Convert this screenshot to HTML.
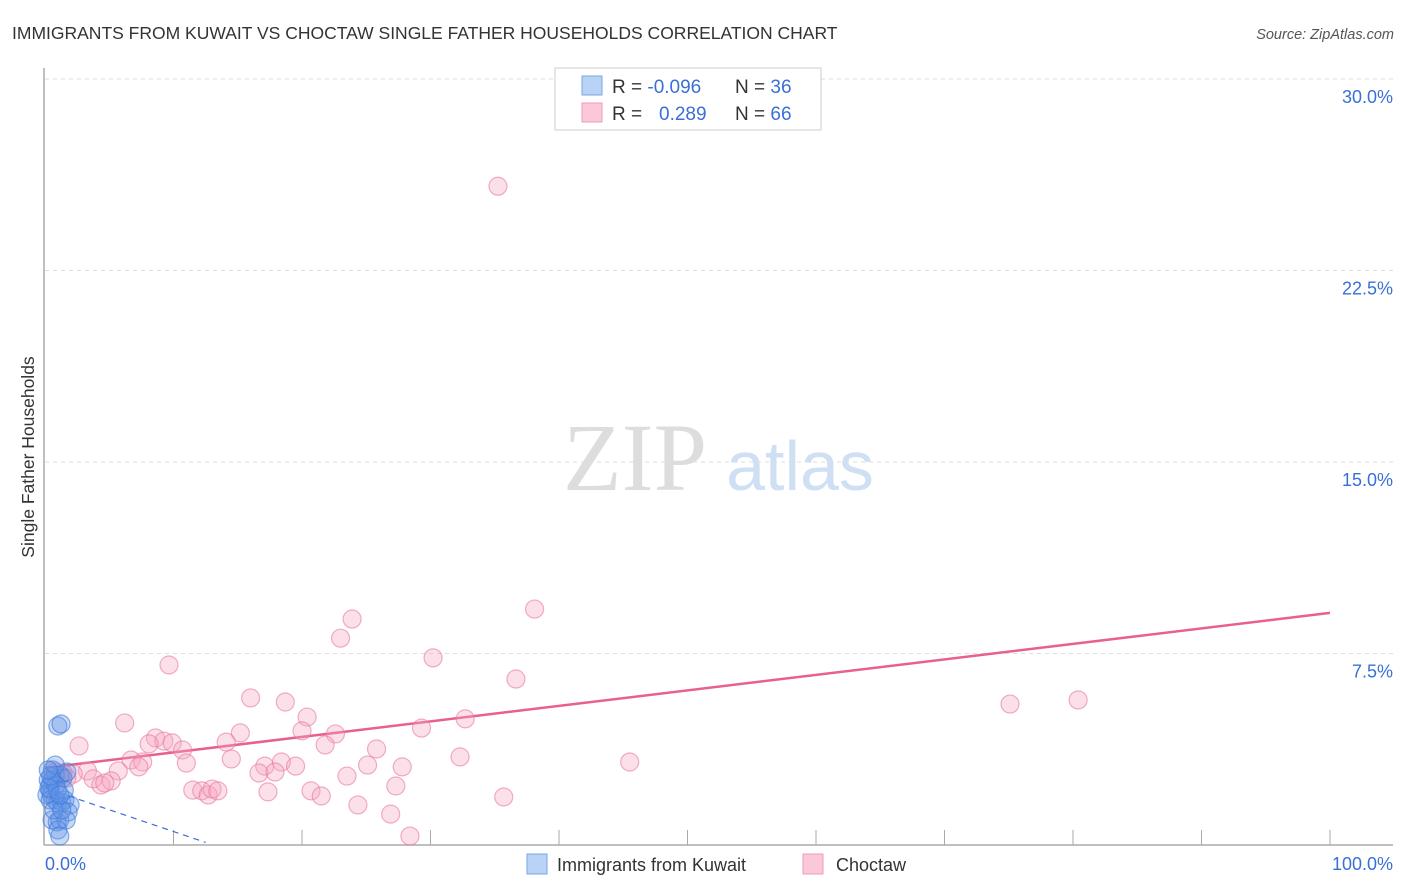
<!DOCTYPE html>
<html><head><meta charset="utf-8"><style>
body{margin:0;background:#fff;font-family:"Liberation Sans",sans-serif;}
svg{display:block}
</style></head><body>
<svg id="chart" width="1406" height="892" xmlns="http://www.w3.org/2000/svg">
<text x="12" y="39" font-size="17.5" fill="#333">IMMIGRANTS FROM KUWAIT VS CHOCTAW SINGLE FATHER HOUSEHOLDS CORRELATION CHART</text>
<text x="1394" y="39" font-size="14.5" fill="#555" font-style="italic" text-anchor="end">Source: ZipAtlas.com</text>
<text transform="translate(34,457) rotate(-90)" font-size="17.5" fill="#333" text-anchor="middle">Single Father Households</text>
<g>
<text x="635" y="490" font-size="96" font-family="Liberation Serif,serif" fill="#ddd" text-anchor="middle">ZIP</text>
<text x="800" y="490" font-size="70" fill="#cfe0f5" text-anchor="middle">atlas</text>
</g>
<g id="grid"></g>
<g id="axes"></g>
<g id="trend"></g>
<g id="pts"></g>
<g>
<rect x="555" y="68" width="266" height="62" fill="#fff" stroke="#ccc"/>
<rect x="582" y="76" width="20" height="19" fill="#b8d3f6" stroke="#7aa6e6"/>
<rect x="582" y="103" width="20" height="19" fill="#fbc8d8" stroke="#f09ab6"/>
<text x="612" y="93" font-size="19" fill="#333">R = <tspan fill="#3a6fd8">-0.096</tspan><tspan x="735">N = </tspan><tspan fill="#3a6fd8">36</tspan></text>
<text x="612" y="120" font-size="19" fill="#333">R = <tspan x="659" fill="#3a6fd8">0.289</tspan><tspan x="735">N = </tspan><tspan fill="#3a6fd8">66</tspan></text>
</g>
<g>
<rect x="527" y="854" width="20" height="20" fill="#b8d3f6" stroke="#7aa6e6"/>
<text x="557" y="871" font-size="18" fill="#333">Immigrants from Kuwait</text>
</g>
<g>
<rect x="803" y="854" width="20" height="20" fill="#fbc8d8" stroke="#f09ab6"/>
<text x="836" y="871" font-size="18" fill="#333">Choctaw</text>
</g>
</svg>
<script>
const yTicks=[7.5,15,22.5,30];
const yTickLabels=["7.5%","15.0%","22.5%","30.0%"];
const xTickLabels=["0.0%","100.0%"];
const kuwaitX=[1.0,1.25,0.6,0.8,1.2,1.4,0.4,0.5,0.8,1.0,1.3,1.55,1.95,1.8,0.55,0.95,1.15,1.65,1.0,1.15,0.4,0.25,0.6,0.15,0.85,1.5,0.4,0.7,1.3,0.95,0.3,0.45,1.7,0.8,0.25,1.15];
const kuwaitY=[4.66,4.74,2.94,2.74,2.74,2.62,2.15,1.96,1.76,1.65,1.68,1.76,1.57,1.29,0.98,0.9,0.98,0.98,0.59,0.35,2.35,2.55,2.55,1.96,2.35,2.15,1.76,1.37,1.37,2.15,2.23,2.7,2.86,3.13,2.94,1.96];
const choctawX=[35.25,38.1,23.9,23.0,30.2,9.65,36.65,16.0,18.7,75.1,80.4,20.4,6.2,32.7,15.2,20.0,22.6,29.3,8.6,9.25,8.1,9.9,2.65,10.7,21.8,14.1,25.8,32.3,45.5,6.7,7.6,7.3,11.0,14.5,17.1,18.4,19.5,25.1,27.8,5.7,3.3,2.2,3.75,16.65,17.9,23.5,4.35,5.15,4.65,27.3,11.5,12.2,12.7,13.0,13.45,17.35,20.7,21.5,35.7,24.35,26.9,28.4,1.4,1.15,0.8,1.7];
const choctawY=[25.8,9.24,8.85,8.1,7.33,7.05,6.5,5.76,5.6,5.52,5.68,5.01,4.78,4.94,4.39,4.47,4.35,4.58,4.19,4.07,3.96,4.0,3.88,3.72,3.92,4.03,3.76,3.45,3.25,3.33,3.25,3.06,3.21,3.37,3.09,3.25,3.09,3.13,3.06,2.9,2.9,2.78,2.59,2.82,2.86,2.7,2.35,2.51,2.43,2.31,2.15,2.12,1.96,2.19,2.12,2.08,2.12,1.92,1.88,1.57,1.21,0.35,2.82,2.7,2.86,2.62];
const choctawTrend=[3.02,9.09];   // y at x=0, x=100
const kuwaitTrend=[2.2,0.1];      // y at x=0.2, x=12.5
const kuwaitTrendX=[0.2,12.5];

const NS="http://www.w3.org/2000/svg";
const X0=45,X1=1330,Y0=845,YS=(845-79)/30;
const sx=v=>X0+(v/100)*(X1-X0);
const sy=v=>Y0-v*YS;
function mk(tag,attrs,parent){const e=document.createElementNS(NS,tag);for(const k in attrs)e.setAttribute(k,attrs[k]);document.getElementById(parent).appendChild(e);return e;}

yTicks.forEach((t,i)=>{
  const l=mk('line',{x1:45,x2:1393,y1:sy(t),y2:sy(t),stroke:'#ddd','stroke-dasharray':'4,4'},'grid');
  
  
  const tx=mk('text',{x:1393,y:sy(t)+24,'font-size':18,fill:'#3a6fd8','text-anchor':'end'},'grid');
  tx.textContent=yTickLabels[i];
  
  
});
const ax=mk('line',{x1:44,x2:44,y1:68,y2:845,stroke:'#aaa','stroke-width':1.5},'axes');


const bx=mk('line',{x1:44,x2:1393,y1:845,y2:845,stroke:'#aaa','stroke-width':1.5},'axes');


for(let i=1;i<=10;i++){
  const t=mk('line',{x1:sx(i*10),x2:sx(i*10),y1:830,y2:845,stroke:'#aaa'},'axes');
  
  
}
const xl0=mk('text',{x:45,y:870,'font-size':18,fill:'#3a6fd8'},'axes');
xl0.textContent=xTickLabels[0];


const xl1=mk('text',{x:1393,y:870,'font-size':18,fill:'#3a6fd8','text-anchor':'end'},'axes');
xl1.textContent=xTickLabels[1];



choctawX.forEach((x,i)=>{
  const c=mk('circle',{cx:sx(x),cy:sy(choctawY[i]),r:9,fill:'rgba(245,165,192,0.35)',stroke:'rgba(232,120,160,0.6)','stroke-width':1.2},'pts');
  
  
});
kuwaitX.forEach((x,i)=>{
  const c=mk('circle',{cx:sx(x),cy:sy(kuwaitY[i]),r:9,fill:'rgba(100,150,230,0.35)',stroke:'rgba(60,120,220,0.6)','stroke-width':1.2},'pts');
  
  
});
const pl=mk('line',{x1:sx(0),y1:sy(choctawTrend[0]),x2:sx(100),y2:sy(choctawTrend[1]),stroke:'#e8608c','stroke-width':2.5},'trend');


const bl=mk('line',{x1:sx(kuwaitTrendX[0]),y1:sy(kuwaitTrend[0]),x2:sx(kuwaitTrendX[1]),y2:sy(kuwaitTrend[1]),stroke:'#3a6fd8','stroke-width':1.2,'stroke-dasharray':'6,5'},'trend');


</script>
</body></html>
